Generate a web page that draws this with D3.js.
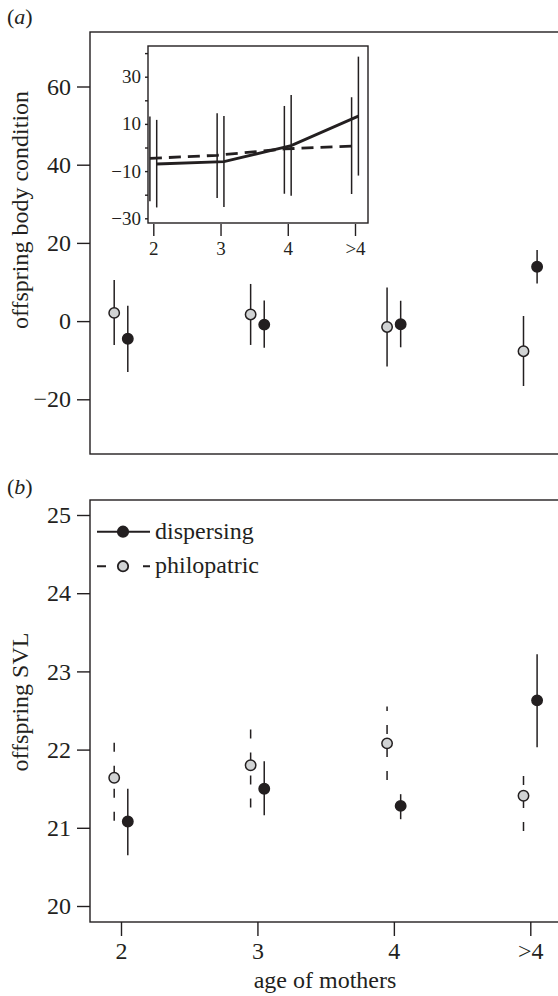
<!DOCTYPE html>
<html>
<head>
<meta charset="utf-8">
<script src="https://cdn.jsdelivr.net/npm/d3@7"></script>
<style>
  body { margin: 0; background: #fff; }
  svg text { font-family: "Times New Roman", Times, "Liberation Serif", Tinos, serif; fill: #231f20; }
</style>
</head>
<body>
<div id="chart"></div>
<script>
// age classes of mothers
const ages = ['2', '3', '4', '>4'];

// (a) offspring body condition, mean and error bar ends
const condDispMean = [-4.5, -0.9, -0.8, 13.9];
const condDispHi   = [3.9, 5.3, 5.2, 18.2];
const condDispLo   = [-13.0, -6.8, -6.7, 9.6];
const condPhilMean = [2.1, 1.7, -1.5, -7.7];
const condPhilHi   = [10.5, 9.5, 8.6, 1.3];
const condPhilLo   = [-6.1, -6.1, -11.6, -16.6];

// inset of (a)
const insetDispMean = [-7.0, -6.0, 0.8, 13.3];
const insetDispHi   = [11.7, 13.4, 22.2, 38.5];
const insetDispLo   = [-25.4, -25.2, -20.4, -11.9];
const insetPhilMean = [-4.6, -3.3, -0.6, 0.6];
const insetPhilHi   = [13.1, 14.5, 17.6, 21.3];
const insetPhilLo   = [-22.8, -21.4, -19.6, -19.7];

// (b) offspring SVL
const svlDispMean = [21.08, 21.50, 21.28, 22.63];
const svlDispHi   = [21.50, 21.85, 21.43, 23.22];
const svlDispLo   = [20.65, 21.16, 21.11, 22.03];
const svlPhilMean = [21.64, 21.80, 22.08, 21.41];
const svlPhilHi   = [22.09, 22.27, 22.55, 21.68];
const svlPhilLo   = [21.09, 21.26, 21.61, 20.96];

const condTicks = [60, 40, 20, 0, -20];
const insetTicks = [40, 30, 20, 10, 0, -10, -20, -30];
const insetLabels = [30, 10, -10, -30];
const svlTicks = [20, 21, 22, 23, 24, 25];

const ink = '#231f20';
const grey = '#d1d3d4';
const dash = '9,14';
const serif = '"Times New Roman", Times, "Liberation Serif", Tinos, serif';

var svg = d3.select('#chart')
    .append('svg')
    .attr('width', 558)
    .attr('height', 996);

svg.append('rect').attr('width', 558).attr('height', 996).attr('fill', '#fff');

// shared x positions
var x = d3.scaleLinear().domain([0, 3]).range([121, 530.3]);
var off = 6.8;

var fmt = d3.format('');

function styleAxis(ax, size) {
    ax.attr('font-family', serif);
    ax.select('.domain').remove();
    ax.selectAll('line').attr('stroke', ink).attr('stroke-width', 1.4);
    ax.selectAll('text').attr('font-size', size).attr('fill', ink);
}

// ---------- panel (a) ----------
var yA = d3.scaleLinear().domain([-20, 60]).range([399.3, 86.5]);

svg.append('rect')
    .attr('x', 90).attr('y', 32)
    .attr('width', 520).attr('height', 422)
    .attr('fill', 'none').attr('stroke', ink).attr('stroke-width', 1.4);

var axA = svg.append('g')
    .attr('transform', 'translate(90,0)')
    .call(d3.axisLeft(yA).tickValues(condTicks).tickSize(13).tickPadding(6).tickFormat(fmt));
styleAxis(axA, 24);

svg.append('text')
    .attr('transform', 'translate(28,210) rotate(-90)')
    .attr('text-anchor', 'middle')
    .attr('font-size', 24)
    .text('offspring body condition');

svg.append('text')
    .attr('x', 7).attr('y', 24)
    .attr('font-size', 22)
    .html('(<tspan font-style="italic">a</tspan>)');

function errorBars(g, data, xs, ys, dashed) {
    g.selectAll(null)
        .data(data)
        .enter()
        .append('line')
        .attr('x1', (d, i) => xs(i))
        .attr('x2', (d, i) => xs(i))
        .attr('y1', d => ys(d[1]))   // draw from the lower end up
        .attr('y2', d => ys(d[0]))
        .attr('stroke', ink)
        .attr('stroke-width', 1.5)
        .attr('stroke-dasharray', dashed ? dash : null);
}

function points(g, means, xs, ys, fill) {
    g.selectAll(null)
        .data(means)
        .enter()
        .append('circle')
        .attr('cx', (d, i) => xs(i))
        .attr('cy', d => ys(d))
        .attr('r', 5.2)
        .attr('fill', fill)
        .attr('stroke', ink)
        .attr('stroke-width', 1.5);
}

var gA = svg.append('g');
var xPhil = i => x(i) - off;
var xDisp = i => x(i) + off;
errorBars(gA, d3.zip(condPhilHi, condPhilLo), xPhil, yA, false);
errorBars(gA, d3.zip(condDispHi, condDispLo), xDisp, yA, false);
points(gA, condPhilMean, xPhil, yA, grey);
points(gA, condDispMean, xDisp, yA, ink);

// inset
var xIn = d3.scaleLinear().domain([0, 3]).range([153.3, 355]);
var yIn = d3.scaleLinear().domain([-30, 30]).range([218.3, 76.7]);
var offIn = 3.4;

svg.append('rect')
    .attr('x', 148).attr('y', 46)
    .attr('width', 220).attr('height', 177)
    .attr('fill', '#fff').attr('stroke', ink).attr('stroke-width', 1.4);

var axIn = svg.append('g')
    .attr('transform', 'translate(148,0)')
    .call(d3.axisLeft(yIn).tickValues(insetTicks).tickSize(3).tickPadding(4)
        .tickFormat(d => insetLabels.includes(d) ? fmt(d) : ''));
styleAxis(axIn, 19);

var axInX = svg.append('g')
    .attr('transform', 'translate(0,224)')
    .call(d3.axisBottom(xIn).tickValues([0, 1, 2, 3]).tickSize(12).tickPadding(6)
        .tickFormat(i => ages[i]));
styleAxis(axInX, 19);

var gIn = svg.append('g');
var xInPhil = i => xIn(i) - offIn;
var xInDisp = i => xIn(i) + offIn;
errorBars(gIn, d3.zip(insetPhilHi, insetPhilLo), xInPhil, yIn, false);
errorBars(gIn, d3.zip(insetDispHi, insetDispLo), xInDisp, yIn, false);

var lineInPhil = d3.line().x((d, i) => xInPhil(i)).y(d => yIn(d));
var lineInDisp = d3.line().x((d, i) => xInDisp(i)).y(d => yIn(d));

gIn.append('path')
    .attr('d', lineInPhil(insetPhilMean))
    .attr('fill', 'none').attr('stroke', ink)
    .attr('stroke-width', 2.8).attr('stroke-dasharray', '12,7');
gIn.append('path')
    .attr('d', lineInDisp(insetDispMean))
    .attr('fill', 'none').attr('stroke', ink)
    .attr('stroke-width', 2.8);

// ---------- panel (b) ----------
var yB = d3.scaleLinear().domain([20, 25]).range([906, 515]);

svg.append('rect')
    .attr('x', 90).attr('y', 500)
    .attr('width', 520).attr('height', 422)
    .attr('fill', 'none').attr('stroke', ink).attr('stroke-width', 1.4);

var axB = svg.append('g')
    .attr('transform', 'translate(90,0)')
    .call(d3.axisLeft(yB).tickValues(svlTicks).tickSize(13).tickPadding(6).tickFormat(fmt));
styleAxis(axB, 24);

var axX = svg.append('g')
    .attr('transform', 'translate(0,922)')
    .call(d3.axisBottom(x).tickValues([0, 1, 2, 3]).tickSize(14).tickPadding(6)
        .tickFormat(i => ages[i]));
styleAxis(axX, 24);

svg.append('text')
    .attr('x', 325).attr('y', 988)
    .attr('text-anchor', 'middle')
    .attr('font-size', 24)
    .text('age of mothers');

svg.append('text')
    .attr('transform', 'translate(28,702) rotate(-90)')
    .attr('text-anchor', 'middle')
    .attr('font-size', 24)
    .text('offspring SVL');

svg.append('text')
    .attr('x', 7).attr('y', 494)
    .attr('font-size', 22)
    .html('(<tspan font-style="italic">b</tspan>)');

var gB = svg.append('g');
errorBars(gB, d3.zip(svlPhilHi, svlPhilLo), xPhil, yB, true);
errorBars(gB, d3.zip(svlDispHi, svlDispLo), xDisp, yB, false);
points(gB, svlPhilMean, xPhil, yB, grey);
points(gB, svlDispMean, xDisp, yB, ink);

// legend
var legend = [
    {label: 'dispersing', fill: ink, dashed: false},
    {label: 'philopatric', fill: grey, dashed: true}
];
var lg = svg.append('g');
legend.forEach(function(d, i) {
    var ly = 531.7 + i * 34.5;
    lg.append('line')
        .attr('x1', 97).attr('x2', 150)
        .attr('y1', ly).attr('y2', ly)
        .attr('stroke', ink).attr('stroke-width', 2)
        .attr('stroke-dasharray', d.dashed ? dash : null);
    lg.append('circle')
        .attr('cx', 123).attr('cy', ly).attr('r', 5.2)
        .attr('fill', d.fill).attr('stroke', ink).attr('stroke-width', 1.8);
    lg.append('text')
        .attr('x', 155).attr('y', ly).attr('dy', '0.3em')
        .attr('font-size', 24)
        .text(d.label);
});
</script>
</body>
</html>
